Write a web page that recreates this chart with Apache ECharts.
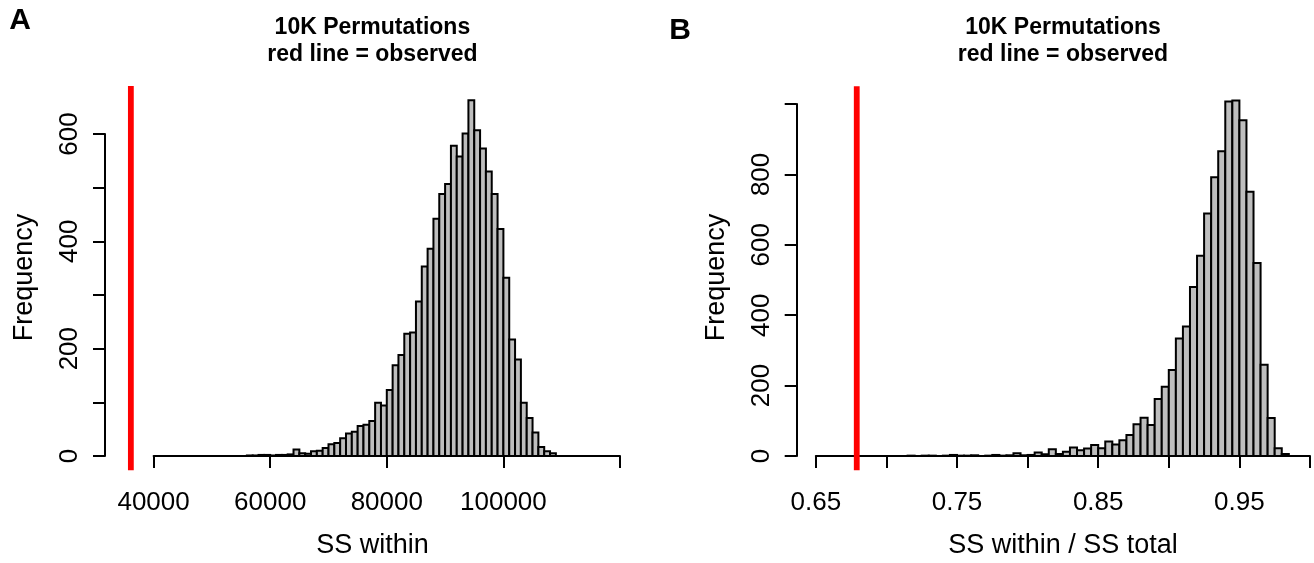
<!DOCTYPE html>
<html>
<head>
<meta charset="utf-8">
<title>Permutation histograms</title>
<script src="https://cdn.jsdelivr.net/npm/echarts@6/dist/echarts.min.js"></script>
<style>
  html, body { margin: 0; padding: 0; background: #ffffff; }
  #chart { width: 1314px; height: 563px; }
</style>
</head>
<body>
<div id="chart"></div>
<script>
// ---- Panel A: SS within, 10K permutations ----
const binStartA = 56000;
const binWidthA = 1000;
const countsA = [1, 1, 2, 2, 1, 2, 2, 3, 12, 5, 4, 9, 10, 15, 22, 24, 33, 42, 45, 56,
  58, 65, 99, 94, 123, 169, 188, 228, 230, 288, 353, 386, 442, 488, 507, 578, 558, 601,
  663, 607, 573, 530, 488, 423, 332, 217, 180, 99, 71, 44, 17, 9, 5];
const observedA = 36100;
const xTicksA = [40000, 120000, 20000];          // min, max, step
const xLabelsA = ['40000', '60000', '80000', '100000'];
const yTicksA = [0, 600, 100];
const yLabelsA = ['0', '200', '400', '600'];

// ---- Panel B: SS within / SS total ----
const binStartB = 0.715;
const binWidthB = 0.005;
const countsB = [1, 0, 1, 1, 0, 1, 3, 1, 1, 2, 0, 1, 3, 1, 2,
  8, 2, 3, 10, 5, 19, 6, 12, 24, 16, 21,
  31, 22, 41, 33, 45, 60, 90, 109, 88, 162, 197, 244, 334, 368, 480, 569, 689, 792,
  866, 1007, 1010, 954, 751, 548, 259, 108, 22, 6];
const observedB = 0.679;
const xTicksB = [0.65, 1.0, 0.05];
const xLabelsB = ['0.65', '0.75', '0.85', '0.95'];
const yTicksB = [0, 1000, 200];
const yLabelsB = ['0', '200', '400', '600', '800'];

const titleLines = ['10K Permutations', 'red line = observed'];
const xTitles = ['SS within', 'SS within / SS total'];
const yTitle = 'Frequency';
const panelLetters = ['A', 'B'];

const FONT = '"Liberation Sans", Arial, Helvetica, sans-serif';

function bins(start, width, counts, digits) {
  return counts.map((c, i) => [
    +(start + i * width).toFixed(digits),
    +(start + (i + 1) * width).toFixed(digits),
    c
  ]);
}

function histSeries(idx, data) {
  return {
    type: 'custom',
    xAxisIndex: idx,
    yAxisIndex: idx,
    clip: false,
    silent: true,
    encode: { x: [0, 1], y: 2 },
    data: data,
    renderItem: function (params, api) {
      const p0 = api.coord([api.value(0), 0]);
      const p1 = api.coord([api.value(1), api.value(2)]);
      return {
        type: 'rect',
        shape: { x: p0[0], y: p1[1], width: p1[0] - p0[0], height: p0[1] - p1[1] },
        style: { fill: '#bebebe', stroke: '#000000', lineWidth: 2 }
      };
    }
  };
}

// observed value drawn across the full plot height (counts range padded by 4%)
function observedSeries(idx, x, counts) {
  const top = Math.max.apply(null, counts);
  const lo = -0.04 * top, hi = 1.04 * top;
  return {
    type: 'custom',
    xAxisIndex: idx,
    yAxisIndex: idx,
    clip: false,
    silent: true,
    data: [[x, lo, hi]],
    renderItem: function (params, api) {
      const a = api.coord([api.value(0), api.value(1)]);
      const b = api.coord([api.value(0), api.value(2)]);
      return {
        type: 'line',
        shape: { x1: a[0], y1: a[1], x2: b[0], y2: b[1] },
        style: { stroke: '#ff0000', lineWidth: 5.8 }
      };
    }
  };
}

function xAxis(idx, ticks, labels, digits) {
  return {
    gridIndex: idx, type: 'value',
    min: ticks[0], max: ticks[1], interval: ticks[2],
    offset: 15,
    axisLine: { show: true, lineStyle: { color: '#000', width: 2 } },
    axisTick: { show: true, length: 12, lineStyle: { color: '#000', width: 2 } },
    splitLine: { show: false },
    axisLabel: {
      show: true, showMinLabel: true, showMaxLabel: true,
      color: '#000', fontSize: 26, fontFamily: FONT, margin: 19,
      formatter: function (v) {
        const s = digits ? (+v).toFixed(digits) : String(Math.round(v));
        return labels.indexOf(s) >= 0 ? s : '';
      }
    }
  };
}

function yAxis(idx, ticks, labels, offset) {
  return {
    gridIndex: idx, type: 'value',
    min: ticks[0], max: ticks[1], interval: ticks[2],
    offset: offset,
    axisLine: { show: true, lineStyle: { color: '#000', width: 2 } },
    axisTick: { show: true, length: 12, lineStyle: { color: '#000', width: 2 } },
    splitLine: { show: false },
    axisLabel: {
      show: true, showMinLabel: true, showMaxLabel: true,
      rotate: 90, color: '#000', fontSize: 26, fontFamily: FONT, margin: 22,
      formatter: function (v) {
        const s = String(Math.round(v));
        return labels.indexOf(s) >= 0 ? s : '';
      }
    }
  };
}

function text(str, x, y, size, bold, rot) {
  return {
    type: 'text', x: x, y: y, rotation: rot || 0, silent: true,
    style: {
      text: str, fill: '#000',
      font: (bold ? 'bold ' : '') + size + 'px ' + FONT,
      textAlign: 'center', textVerticalAlign: 'middle'
    }
  };
}

const chart = echarts.init(document.getElementById('chart'), null, { renderer: 'canvas' });

const centersX = [372.4, 1063];
const yTitleX = [25, 717];

chart.setOption({
  animation: false,
  backgroundColor: '#ffffff',
  grid: [
    { left: 153.6, top: 134, width: 466.4, height: 322 },
    { left: 815.8, top: 104, width: 494.2, height: 352 }
  ],
  xAxis: [xAxis(0, xTicksA, xLabelsA, 0), xAxis(1, xTicksB, xLabelsB, 2)],
  yAxis: [yAxis(0, yTicksA, yLabelsA, 48.6), yAxis(1, yTicksB, yLabelsB, 19.1)],
  series: [
    histSeries(0, bins(binStartA, binWidthA, countsA, 0)),
    histSeries(1, bins(binStartB, binWidthB, countsB, 3)),
    observedSeries(0, observedA, countsA),
    observedSeries(1, observedB, countsB)
  ],
  graphic: [
    text(panelLetters[0], 20, 21, 30, true),
    text(panelLetters[1], 680, 31, 30, true),
    text(titleLines[0], centersX[0], 28, 23, true),
    text(titleLines[1], centersX[0], 55, 23, true),
    text(titleLines[0], centersX[1], 28, 23, true),
    text(titleLines[1], centersX[1], 55, 23, true),
    text(xTitles[0], centersX[0], 546, 27, false),
    text(xTitles[1], centersX[1], 546, 27, false),
    text(yTitle, yTitleX[0], 277.5, 27, false, Math.PI / 2),
    text(yTitle, yTitleX[1], 277.5, 27, false, Math.PI / 2)
  ]
});
</script>
</body>
</html>
